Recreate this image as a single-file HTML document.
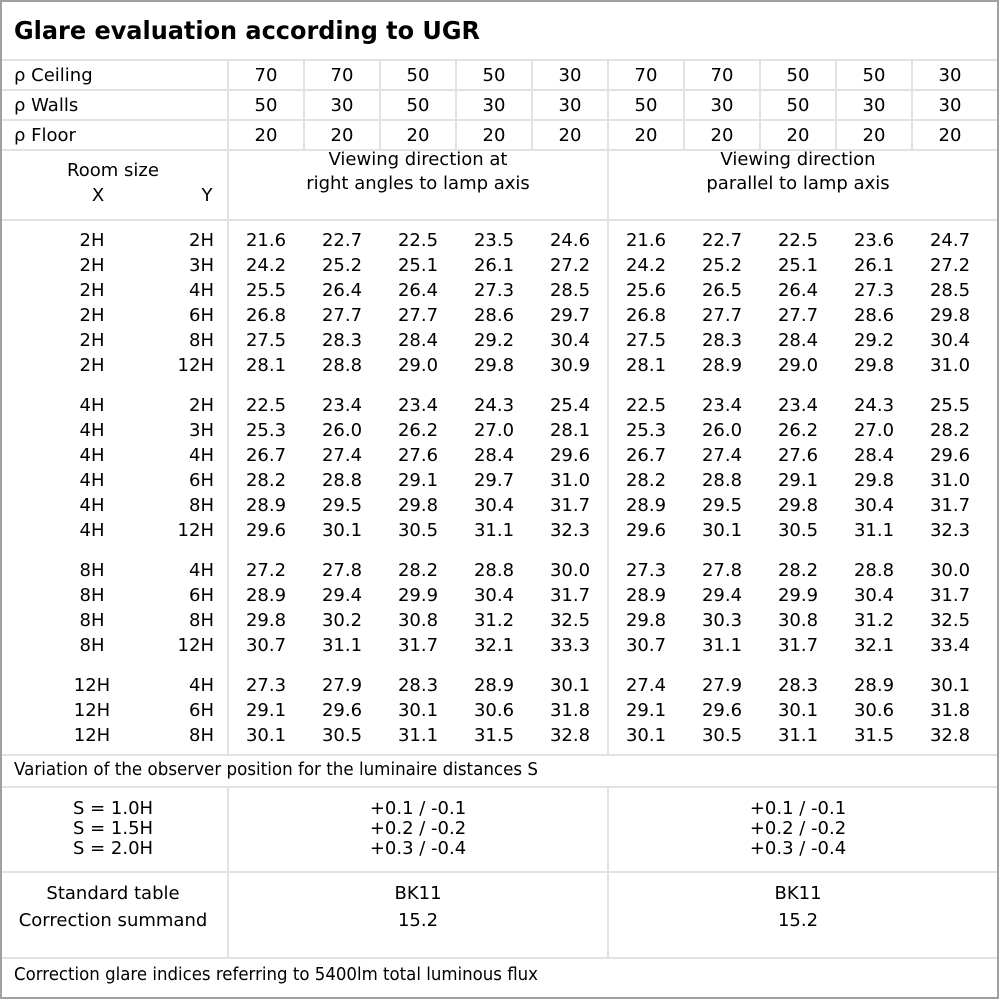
<!DOCTYPE html>
<html><head><meta charset="utf-8"><style>
html,body{margin:0;padding:0;background:#fff}
svg{display:block}
text{font-family:"DejaVu Sans","Liberation Sans",sans-serif;font-size:18px;fill:#000}
.c{text-anchor:middle}
.r{text-anchor:end}
</style></head><body>
<svg width="1000" height="1000" xmlns="http://www.w3.org/2000/svg">
<rect x="0" y="0" width="1000" height="1000" fill="#fff"/>
<g stroke="#e2e2e2" stroke-width="2">
<line x1="2" y1="60" x2="998" y2="60"/>
<line x1="2" y1="90" x2="998" y2="90"/>
<line x1="2" y1="120" x2="998" y2="120"/>
<line x1="2" y1="150" x2="998" y2="150"/>
<line x1="2" y1="220" x2="998" y2="220"/>
<line x1="2" y1="755" x2="998" y2="755"/>
<line x1="2" y1="787" x2="998" y2="787"/>
<line x1="2" y1="872" x2="998" y2="872"/>
<line x1="2" y1="958" x2="998" y2="958"/>
<line x1="228" y1="60" x2="228" y2="755"/>
<line x1="228" y1="787" x2="228" y2="958"/>
<line x1="608" y1="60" x2="608" y2="755"/>
<line x1="608" y1="787" x2="608" y2="958"/>
<line x1="304" y1="60" x2="304" y2="150"/>
<line x1="380" y1="60" x2="380" y2="150"/>
<line x1="456" y1="60" x2="456" y2="150"/>
<line x1="532" y1="60" x2="532" y2="150"/>
<line x1="684" y1="60" x2="684" y2="150"/>
<line x1="760" y1="60" x2="760" y2="150"/>
<line x1="836" y1="60" x2="836" y2="150"/>
<line x1="912" y1="60" x2="912" y2="150"/>
</g>
<rect x="1" y="1" width="997" height="997" fill="none" stroke="#a0a0a0" stroke-width="2"/>
<text x="14" y="39" style="font-size:25px;font-weight:bold" textLength="466" lengthAdjust="spacingAndGlyphs">Glare evaluation according to UGR</text>

<text x="14" y="81">ρ Ceiling</text>
<text x="14" y="111">ρ Walls</text>
<text x="14" y="141">ρ Floor</text>
<g class="c">
<text x="266" y="81" class="c">70</text><text x="342" y="81" class="c">70</text><text x="418" y="81" class="c">50</text><text x="494" y="81" class="c">50</text><text x="570" y="81" class="c">30</text><text x="646" y="81" class="c">70</text><text x="722" y="81" class="c">70</text><text x="798" y="81" class="c">50</text><text x="874" y="81" class="c">50</text><text x="950" y="81" class="c">30</text>
<text x="266" y="111" class="c">50</text><text x="342" y="111" class="c">30</text><text x="418" y="111" class="c">50</text><text x="494" y="111" class="c">30</text><text x="570" y="111" class="c">30</text><text x="646" y="111" class="c">50</text><text x="722" y="111" class="c">30</text><text x="798" y="111" class="c">50</text><text x="874" y="111" class="c">30</text><text x="950" y="111" class="c">30</text>
<text x="266" y="141" class="c">20</text><text x="342" y="141" class="c">20</text><text x="418" y="141" class="c">20</text><text x="494" y="141" class="c">20</text><text x="570" y="141" class="c">20</text><text x="646" y="141" class="c">20</text><text x="722" y="141" class="c">20</text><text x="798" y="141" class="c">20</text><text x="874" y="141" class="c">20</text><text x="950" y="141" class="c">20</text>
</g>
<text x="113" y="176" class="c">Room size</text>
<text x="98" y="201" class="c">X</text>
<text x="207" y="201" class="c">Y</text>
<text x="418" y="165" class="c">Viewing direction at</text>
<text x="418" y="189" class="c">right angles to lamp axis</text>
<text x="798" y="165" class="c">Viewing direction</text>
<text x="798" y="189" class="c">parallel to lamp axis</text>

<!-- data rows -->
<g>
<text x="92" y="246" class="c">2H</text><text x="214" y="246" class="r">2H</text>
<text x="266" y="246" class="c">21.6</text><text x="342" y="246" class="c">22.7</text><text x="418" y="246" class="c">22.5</text><text x="494" y="246" class="c">23.5</text><text x="570" y="246" class="c">24.6</text><text x="646" y="246" class="c">21.6</text><text x="722" y="246" class="c">22.7</text><text x="798" y="246" class="c">22.5</text><text x="874" y="246" class="c">23.6</text><text x="950" y="246" class="c">24.7</text>
<text x="92" y="271" class="c">2H</text><text x="214" y="271" class="r">3H</text>
<text x="266" y="271" class="c">24.2</text><text x="342" y="271" class="c">25.2</text><text x="418" y="271" class="c">25.1</text><text x="494" y="271" class="c">26.1</text><text x="570" y="271" class="c">27.2</text><text x="646" y="271" class="c">24.2</text><text x="722" y="271" class="c">25.2</text><text x="798" y="271" class="c">25.1</text><text x="874" y="271" class="c">26.1</text><text x="950" y="271" class="c">27.2</text>
<text x="92" y="296" class="c">2H</text><text x="214" y="296" class="r">4H</text>
<text x="266" y="296" class="c">25.5</text><text x="342" y="296" class="c">26.4</text><text x="418" y="296" class="c">26.4</text><text x="494" y="296" class="c">27.3</text><text x="570" y="296" class="c">28.5</text><text x="646" y="296" class="c">25.6</text><text x="722" y="296" class="c">26.5</text><text x="798" y="296" class="c">26.4</text><text x="874" y="296" class="c">27.3</text><text x="950" y="296" class="c">28.5</text>
<text x="92" y="321" class="c">2H</text><text x="214" y="321" class="r">6H</text>
<text x="266" y="321" class="c">26.8</text><text x="342" y="321" class="c">27.7</text><text x="418" y="321" class="c">27.7</text><text x="494" y="321" class="c">28.6</text><text x="570" y="321" class="c">29.7</text><text x="646" y="321" class="c">26.8</text><text x="722" y="321" class="c">27.7</text><text x="798" y="321" class="c">27.7</text><text x="874" y="321" class="c">28.6</text><text x="950" y="321" class="c">29.8</text>
<text x="92" y="346" class="c">2H</text><text x="214" y="346" class="r">8H</text>
<text x="266" y="346" class="c">27.5</text><text x="342" y="346" class="c">28.3</text><text x="418" y="346" class="c">28.4</text><text x="494" y="346" class="c">29.2</text><text x="570" y="346" class="c">30.4</text><text x="646" y="346" class="c">27.5</text><text x="722" y="346" class="c">28.3</text><text x="798" y="346" class="c">28.4</text><text x="874" y="346" class="c">29.2</text><text x="950" y="346" class="c">30.4</text>
<text x="92" y="371" class="c">2H</text><text x="214" y="371" class="r">12H</text>
<text x="266" y="371" class="c">28.1</text><text x="342" y="371" class="c">28.8</text><text x="418" y="371" class="c">29.0</text><text x="494" y="371" class="c">29.8</text><text x="570" y="371" class="c">30.9</text><text x="646" y="371" class="c">28.1</text><text x="722" y="371" class="c">28.9</text><text x="798" y="371" class="c">29.0</text><text x="874" y="371" class="c">29.8</text><text x="950" y="371" class="c">31.0</text>

<text x="92" y="411" class="c">4H</text><text x="214" y="411" class="r">2H</text>
<text x="266" y="411" class="c">22.5</text><text x="342" y="411" class="c">23.4</text><text x="418" y="411" class="c">23.4</text><text x="494" y="411" class="c">24.3</text><text x="570" y="411" class="c">25.4</text><text x="646" y="411" class="c">22.5</text><text x="722" y="411" class="c">23.4</text><text x="798" y="411" class="c">23.4</text><text x="874" y="411" class="c">24.3</text><text x="950" y="411" class="c">25.5</text>
<text x="92" y="436" class="c">4H</text><text x="214" y="436" class="r">3H</text>
<text x="266" y="436" class="c">25.3</text><text x="342" y="436" class="c">26.0</text><text x="418" y="436" class="c">26.2</text><text x="494" y="436" class="c">27.0</text><text x="570" y="436" class="c">28.1</text><text x="646" y="436" class="c">25.3</text><text x="722" y="436" class="c">26.0</text><text x="798" y="436" class="c">26.2</text><text x="874" y="436" class="c">27.0</text><text x="950" y="436" class="c">28.2</text>
<text x="92" y="461" class="c">4H</text><text x="214" y="461" class="r">4H</text>
<text x="266" y="461" class="c">26.7</text><text x="342" y="461" class="c">27.4</text><text x="418" y="461" class="c">27.6</text><text x="494" y="461" class="c">28.4</text><text x="570" y="461" class="c">29.6</text><text x="646" y="461" class="c">26.7</text><text x="722" y="461" class="c">27.4</text><text x="798" y="461" class="c">27.6</text><text x="874" y="461" class="c">28.4</text><text x="950" y="461" class="c">29.6</text>
<text x="92" y="486" class="c">4H</text><text x="214" y="486" class="r">6H</text>
<text x="266" y="486" class="c">28.2</text><text x="342" y="486" class="c">28.8</text><text x="418" y="486" class="c">29.1</text><text x="494" y="486" class="c">29.7</text><text x="570" y="486" class="c">31.0</text><text x="646" y="486" class="c">28.2</text><text x="722" y="486" class="c">28.8</text><text x="798" y="486" class="c">29.1</text><text x="874" y="486" class="c">29.8</text><text x="950" y="486" class="c">31.0</text>
<text x="92" y="511" class="c">4H</text><text x="214" y="511" class="r">8H</text>
<text x="266" y="511" class="c">28.9</text><text x="342" y="511" class="c">29.5</text><text x="418" y="511" class="c">29.8</text><text x="494" y="511" class="c">30.4</text><text x="570" y="511" class="c">31.7</text><text x="646" y="511" class="c">28.9</text><text x="722" y="511" class="c">29.5</text><text x="798" y="511" class="c">29.8</text><text x="874" y="511" class="c">30.4</text><text x="950" y="511" class="c">31.7</text>
<text x="92" y="536" class="c">4H</text><text x="214" y="536" class="r">12H</text>
<text x="266" y="536" class="c">29.6</text><text x="342" y="536" class="c">30.1</text><text x="418" y="536" class="c">30.5</text><text x="494" y="536" class="c">31.1</text><text x="570" y="536" class="c">32.3</text><text x="646" y="536" class="c">29.6</text><text x="722" y="536" class="c">30.1</text><text x="798" y="536" class="c">30.5</text><text x="874" y="536" class="c">31.1</text><text x="950" y="536" class="c">32.3</text>

<text x="92" y="576" class="c">8H</text><text x="214" y="576" class="r">4H</text>
<text x="266" y="576" class="c">27.2</text><text x="342" y="576" class="c">27.8</text><text x="418" y="576" class="c">28.2</text><text x="494" y="576" class="c">28.8</text><text x="570" y="576" class="c">30.0</text><text x="646" y="576" class="c">27.3</text><text x="722" y="576" class="c">27.8</text><text x="798" y="576" class="c">28.2</text><text x="874" y="576" class="c">28.8</text><text x="950" y="576" class="c">30.0</text>
<text x="92" y="601" class="c">8H</text><text x="214" y="601" class="r">6H</text>
<text x="266" y="601" class="c">28.9</text><text x="342" y="601" class="c">29.4</text><text x="418" y="601" class="c">29.9</text><text x="494" y="601" class="c">30.4</text><text x="570" y="601" class="c">31.7</text><text x="646" y="601" class="c">28.9</text><text x="722" y="601" class="c">29.4</text><text x="798" y="601" class="c">29.9</text><text x="874" y="601" class="c">30.4</text><text x="950" y="601" class="c">31.7</text>
<text x="92" y="626" class="c">8H</text><text x="214" y="626" class="r">8H</text>
<text x="266" y="626" class="c">29.8</text><text x="342" y="626" class="c">30.2</text><text x="418" y="626" class="c">30.8</text><text x="494" y="626" class="c">31.2</text><text x="570" y="626" class="c">32.5</text><text x="646" y="626" class="c">29.8</text><text x="722" y="626" class="c">30.3</text><text x="798" y="626" class="c">30.8</text><text x="874" y="626" class="c">31.2</text><text x="950" y="626" class="c">32.5</text>
<text x="92" y="651" class="c">8H</text><text x="214" y="651" class="r">12H</text>
<text x="266" y="651" class="c">30.7</text><text x="342" y="651" class="c">31.1</text><text x="418" y="651" class="c">31.7</text><text x="494" y="651" class="c">32.1</text><text x="570" y="651" class="c">33.3</text><text x="646" y="651" class="c">30.7</text><text x="722" y="651" class="c">31.1</text><text x="798" y="651" class="c">31.7</text><text x="874" y="651" class="c">32.1</text><text x="950" y="651" class="c">33.4</text>

<text x="92" y="691" class="c">12H</text><text x="214" y="691" class="r">4H</text>
<text x="266" y="691" class="c">27.3</text><text x="342" y="691" class="c">27.9</text><text x="418" y="691" class="c">28.3</text><text x="494" y="691" class="c">28.9</text><text x="570" y="691" class="c">30.1</text><text x="646" y="691" class="c">27.4</text><text x="722" y="691" class="c">27.9</text><text x="798" y="691" class="c">28.3</text><text x="874" y="691" class="c">28.9</text><text x="950" y="691" class="c">30.1</text>
<text x="92" y="716" class="c">12H</text><text x="214" y="716" class="r">6H</text>
<text x="266" y="716" class="c">29.1</text><text x="342" y="716" class="c">29.6</text><text x="418" y="716" class="c">30.1</text><text x="494" y="716" class="c">30.6</text><text x="570" y="716" class="c">31.8</text><text x="646" y="716" class="c">29.1</text><text x="722" y="716" class="c">29.6</text><text x="798" y="716" class="c">30.1</text><text x="874" y="716" class="c">30.6</text><text x="950" y="716" class="c">31.8</text>
<text x="92" y="741" class="c">12H</text><text x="214" y="741" class="r">8H</text>
<text x="266" y="741" class="c">30.1</text><text x="342" y="741" class="c">30.5</text><text x="418" y="741" class="c">31.1</text><text x="494" y="741" class="c">31.5</text><text x="570" y="741" class="c">32.8</text><text x="646" y="741" class="c">30.1</text><text x="722" y="741" class="c">30.5</text><text x="798" y="741" class="c">31.1</text><text x="874" y="741" class="c">31.5</text><text x="950" y="741" class="c">32.8</text>
</g>

<text x="14" y="775" textLength="524" lengthAdjust="spacingAndGlyphs">Variation of the observer position for the luminaire distances S</text>
<text x="113" y="814" class="c">S = 1.0H</text>
<text x="113" y="834" class="c">S = 1.5H</text>
<text x="113" y="854" class="c">S = 2.0H</text>
<text x="418" y="814" class="c">+0.1 / -0.1</text>
<text x="418" y="834" class="c">+0.2 / -0.2</text>
<text x="418" y="854" class="c">+0.3 / -0.4</text>
<text x="798" y="814" class="c">+0.1 / -0.1</text>
<text x="798" y="834" class="c">+0.2 / -0.2</text>
<text x="798" y="854" class="c">+0.3 / -0.4</text>
<text x="113" y="899" class="c">Standard table</text>
<text x="113" y="926" class="c">Correction summand</text>
<text x="418" y="899" class="c">BK11</text>
<text x="418" y="926" class="c">15.2</text>
<text x="798" y="899" class="c">BK11</text>
<text x="798" y="926" class="c">15.2</text>
<text x="14" y="980" textLength="524" lengthAdjust="spacingAndGlyphs">Correction glare indices referring to 5400lm total luminous flux</text>
</svg>
</body></html>
